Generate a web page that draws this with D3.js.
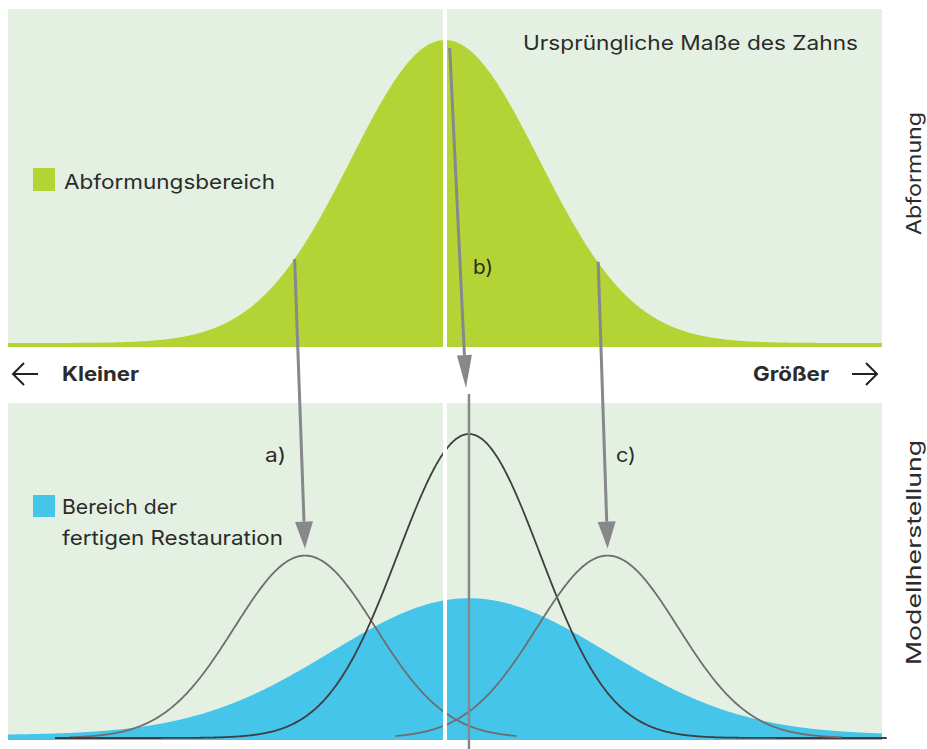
<!DOCTYPE html>
<html>
<head>
<meta charset="utf-8">
<script src="https://cdn.jsdelivr.net/npm/d3@7"></script>
<style>
  body { margin: 0; background: #fff; }
  svg text { font-family: Inter, "Open Sans", sans-serif; fill: #2b2b2b; }
</style>
</head>
<body>
<div id="chart"></div>
<script>
// distributions, in units of the impression spread (mean, spread, relative peak)
const topNames = ["Abformungsbereich"];
const topMeans = [0];
const topSpreads = [1];
const topPeaks = [1];

const lineNames = ["a", "b", "c"];
const lineMeans = [-1.49, 0.255, 1.73];
const lineSpreads = [0.75, 0.755, 0.75];
const linePeaks = [0.6, 1, 0.6];
const lineFrom = [-4.0, -4.15, -0.53];
const lineTo = [0.76, 4.7, 4.22];
const lineColors = ["#6e6e6e", "#3f3f3f", "#6e6e6e"];

const restMean = 0.255;
const restSpread = 1.47;
const restPeak = 0.45;

// arrows: start on impression curve, end at the peak of shifted model curve
const arrowFrom = [-1.6, 0.05, 1.63];
const arrowFromY = [0.277, 0.99, 0.268];
const arrowLabels = ["a)", "b)", "c)"];

(function () {
  const width = 927, height = 749;
  const svg = d3.select("#chart").append("svg")
    .attr("width", width)
    .attr("height", height);

  const left = 8, right = 882;
  const x = d3.scaleLinear().domain([-4.65, 4.65]).range([left, right]);
  const yTop = d3.scaleLinear().domain([0, 1]).range([343, 40]);
  const yBot = d3.scaleLinear().domain([0, 1]).range([738, 434]);

  const gauss = (v, m, s, p) => p * Math.exp(-((v - m) * (v - m)) / (2 * s * s));
  const xs = d3.range(-4.65, 4.651, 0.01);

  // panels
  svg.append("rect").attr("x", left).attr("y", 9).attr("width", right - left).attr("height", 338).attr("fill", "#e4f0e2");
  svg.append("rect").attr("x", left).attr("y", 403).attr("width", right - left).attr("height", 337).attr("fill", "#e4f0e2");

  // impression area
  svg.append("path")
    .datum(xs)
    .attr("fill", "#b4d334")
    .attr("d", d3.area()
      .x(d => x(d))
      .y0(347)
      .y1(d => yTop(gauss(d, topMeans[0], topSpreads[0], topPeaks[0]))));

  // restoration area
  svg.append("path")
    .datum(xs)
    .attr("fill", "#45c5ea")
    .attr("d", d3.area()
      .x(d => x(d))
      .y0(740)
      .y1(d => yBot(gauss(d, restMean, restSpread, restPeak)) - 3));

  // model curves
  lineNames.forEach((n, i) => {
    const pts = d3.range(lineFrom[i], lineTo[i] + 0.001, 0.01);
    svg.append("path")
      .datum(pts)
      .attr("fill", "none")
      .attr("stroke", lineColors[i])
      .attr("stroke-width", 1.8)
      .attr("d", d3.line()
        .x(d => x(d))
        .y(d => yBot(gauss(d, lineMeans[i], lineSpreads[i], linePeaks[i]))));
  });

  // white centre line
  svg.append("rect").attr("x", x(0) - 2).attr("y", 9).attr("width", 4).attr("height", 338).attr("fill", "#fff");
  svg.append("rect").attr("x", x(0) - 2).attr("y", 403).attr("width", 4).attr("height", 337).attr("fill", "#fff");

  // arrows
  const grey = "#87888b";
  lineNames.forEach((n, i) => {
    const x1 = x(arrowFrom[i]);
    const y1 = i === 1 ? 48 : yTop(arrowFromY[i]);
    const tipX = i === 1 ? 466 : x(lineMeans[i]);
    const tipY = i === 1 ? 388 : yBot(linePeaks[i]) - 7;
    const headLen = i === 1 ? 33 : 27;
    const ang = Math.atan2(tipY - y1, tipX - x1);
    const bx = tipX - headLen * Math.cos(ang), by = tipY - headLen * Math.sin(ang);
    svg.append("line")
      .attr("x1", x1).attr("y1", y1).attr("x2", bx).attr("y2", by)
      .attr("stroke", grey).attr("stroke-width", 3);
    const hw = i === 1 ? 7.5 : 9;
    const px = -Math.sin(ang), py = Math.cos(ang);
    svg.append("path")
      .attr("fill", grey)
      .attr("d", `M${tipX},${tipY}L${bx + hw * px},${by + hw * py}L${bx - hw * px},${by - hw * py}Z`);
  });
  // centre reference line of the model
  svg.append("line")
    .attr("x1", x(lineMeans[1])).attr("x2", x(lineMeans[1]))
    .attr("y1", 394).attr("y2", 749)
    .attr("stroke", grey).attr("stroke-width", 2.5);

  // labels, stretched to the widths of the original lettering
  function label(tx, ty, str, len, bold) {
    return svg.append("text").attr("x", tx).attr("y", ty)
      .attr("textLength", len).attr("lengthAdjust", "spacingAndGlyphs")
      .style("font-size", "20px").style("font-weight", bold ? 700 : 400)
      .text(str);
  }
  label(523, 50, "Ursprüngliche Maße des Zahns", 335);
  label(473, 274, arrowLabels[1], 20);
  label(265, 462, arrowLabels[0], 21);
  label(616, 462, arrowLabels[2], 20);

  svg.append("rect").attr("x", 33).attr("y", 168).attr("width", 22).attr("height", 23).attr("fill", "#b4d334");
  label(64, 189, topNames[0], 211);
  svg.append("rect").attr("x", 33).attr("y", 495).attr("width", 22).attr("height", 22).attr("fill", "#45c5ea");
  label(62, 514, "Bereich der", 115);
  label(62, 545, "fertigen Restauration", 221);

  label(62, 381, "Kleiner", 77, true);
  label(753, 381, "Größer", 76, true);
  svg.append("path").attr("fill", "none").attr("stroke", "#222").attr("stroke-width", 2)
    .attr("d", "M38,374H14M24,363L13,374L24,385");
  svg.append("path").attr("fill", "none").attr("stroke", "#222").attr("stroke-width", 2)
    .attr("d", "M852,374H876M866,363L877,374L866,385");

  svg.append("text").attr("transform", "translate(921,235) rotate(-90)")
    .attr("textLength", 123).attr("lengthAdjust", "spacingAndGlyphs")
    .style("font-size", "20px").text("Abformung");
  svg.append("text").attr("transform", "translate(921,665) rotate(-90)")
    .attr("textLength", 225).attr("lengthAdjust", "spacingAndGlyphs")
    .style("font-size", "20px").text("Modellherstellung");
})();
</script>
</body>
</html>
